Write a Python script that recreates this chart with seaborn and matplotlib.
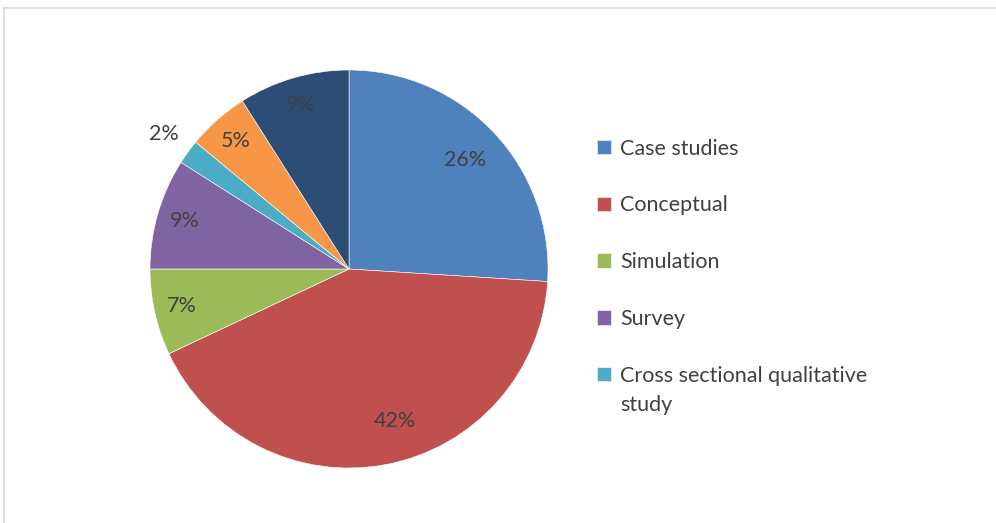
import matplotlib.pyplot as plt
import seaborn as sns
import numpy as np
from matplotlib.lines import Line2D

# data (clockwise from 12 o'clock)
categories = ["Case studies", "Conceptual", "Simulation", "Survey",
              "Cross sectional qualitative study", "Other (a)", "Other (b)"]
shares = [26, 42, 7, 9, 2, 5, 9]
colors = ["#4F81BD", "#C0504D", "#9BBB59", "#8064A2", "#4BACC6", "#F79646", "#2C4D75"]
# the legend in the original only shows the first five entries
n_legend = 5

sns.set_theme(style="white")
plt.rcParams['font.family'] = ['Lato', 'DejaVu Sans']
text_col = "#404040"
fs = 15.5

fig = plt.figure(figsize=(9.96, 5.23), dpi=100)
ax = fig.add_axes([150 / 996, 1 - 468 / 523, 398 / 996, 398 / 523])

wedges, texts, autotexts = ax.pie(
    shares, colors=colors, startangle=90, counterclock=False,
    autopct=lambda p: f"{p:.0f}%", pctdistance=0.82,
    wedgeprops=dict(edgecolor="white", linewidth=0.4),
    textprops=dict(color=text_col, fontsize=fs))
ax.set_xlim(-1, 1)
ax.set_ylim(-1, 1)
ax.set_aspect("equal")

# a few labels sit a little further out, like Excel's best fit
for w, t, s in zip(wedges, autotexts, shares):
    ang = np.deg2rad((w.theta1 + w.theta2) / 2)
    if s <= 2:
        d = 1.15
    elif s < 20:
        d = 0.86
    else:
        d = 0.80
    if s == 42:
        ang += np.deg2rad(6)
    t.set_position((d * np.cos(ang), d * np.sin(ang)))

# Excel wraps the long label with the marker on the first line
first_line, wrap_rest = categories[4].rsplit(" ", 1)
leg_labels = categories[:4] + [first_line]
leg = fig.legend(wedges[:n_legend], leg_labels,
                 loc="upper left", bbox_to_anchor=(588 / 996, 1 - 130 / 523),
                 frameon=False, fontsize=fs, labelspacing=1.71,
                 handlelength=0.65, handleheight=0.65, handletextpad=0.45,
                 borderaxespad=0)
for t in leg.get_texts():
    t.set_color(text_col)

fig.canvas.draw()
bb = leg.get_texts()[4].get_window_extent()
fig.text(bb.x0 / fig.bbox.width, (bb.y0 - 29) / fig.bbox.height, wrap_rest,
         ha="left", va="bottom", fontsize=fs, color=text_col)

# light grey chart-area border (top and left visible)
fig.add_artist(Line2D([3.5 / 996, 3.5 / 996], [0, 1 - 7.5 / 523],
                      transform=fig.transFigure, color="#D9D9D9", lw=1.2))
fig.add_artist(Line2D([3.5 / 996, 1], [1 - 7.5 / 523, 1 - 7.5 / 523],
                      transform=fig.transFigure, color="#D9D9D9", lw=1.2))

fig.savefig("out.png", dpi=100)
